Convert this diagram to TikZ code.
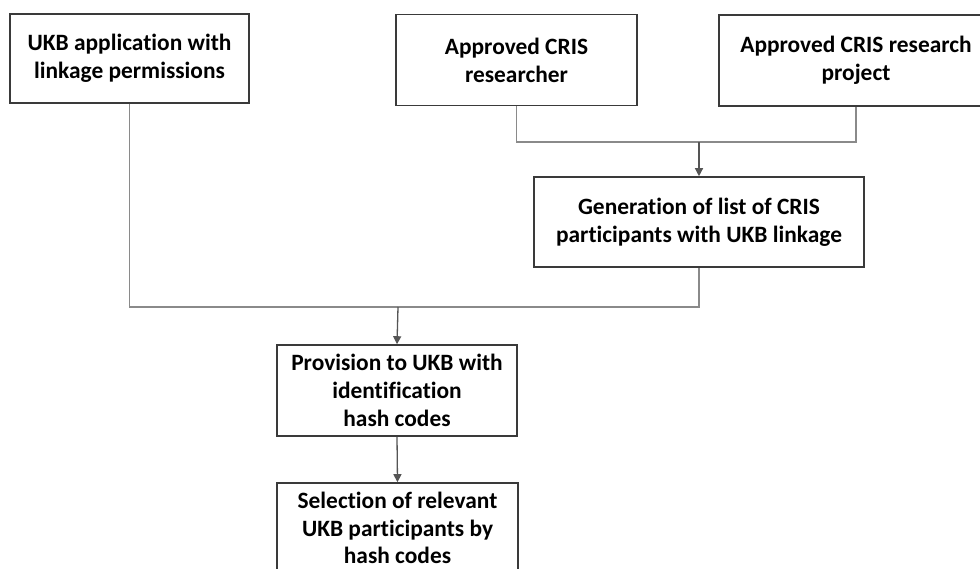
\documentclass[tikz,border=0pt]{standalone}
\usepackage{fontspec}
\setmainfont{Carlito}[Ligatures=NoCommon]
\usetikzlibrary{arrows.meta}
\definecolor{boxline}{HTML}{3A3A3A}
\definecolor{connline}{HTML}{8A8A8A}
\definecolor{arrline}{HTML}{555555}
\tikzset{
  stepbox/.style={draw=boxline, line width=1.6pt, fill=white, align=center,
    inner sep=0pt, font=\fontsize{23.4}{27.8}\selectfont\bfseries, text=black},
  conn/.style={draw=connline, line width=1.3pt},
  arr/.style={draw=arrline, line width=1.3pt, -{Triangle[width=8pt,length=8pt]}},
}
\begin{document}
\begin{tikzpicture}[x=1pt,y=-1pt]
\useasboundingbox (0,0) rectangle (980,568);
\clip (0,0) rectangle (980,568);
\node[stepbox, minimum width=239pt, minimum height=89pt] (A) at (129.5,58.5) {UKB application with\\linkage permissions};
\node[stepbox, minimum width=241pt, minimum height=91pt] (B) at (516.5,60) {Approved CRIS\\researcher};
\node[stepbox, minimum width=274pt, minimum height=91pt] (C) at (856,60.5) {Approved CRIS research\\project};
\node[stepbox, minimum width=330pt, minimum height=90pt] (D) at (699,222) {Generation of list of CRIS\\participants with UKB linkage};
\node[stepbox, minimum width=240pt, minimum height=91pt] (E) at (397,390.5) {Provision to UKB with\\identification\\hash codes};
\node[stepbox, minimum width=241pt, minimum height=90pt] (F) at (397.5,528) {Selection of relevant\\UKB participants by\\hash codes};
\coordinate (j1) at (699,142);
\coordinate (j2) at (398,307);
\draw[conn] (B.south) |- (j1) -| (C.south);
\draw[arr] (j1) -- (D.north);
\draw[conn] (A.south) |- (j2) -| (D.south);
\draw[arr] (j2) -- (E.north);
\draw[arr] (E.south) -- (F.north);
\end{tikzpicture}
\end{document}
